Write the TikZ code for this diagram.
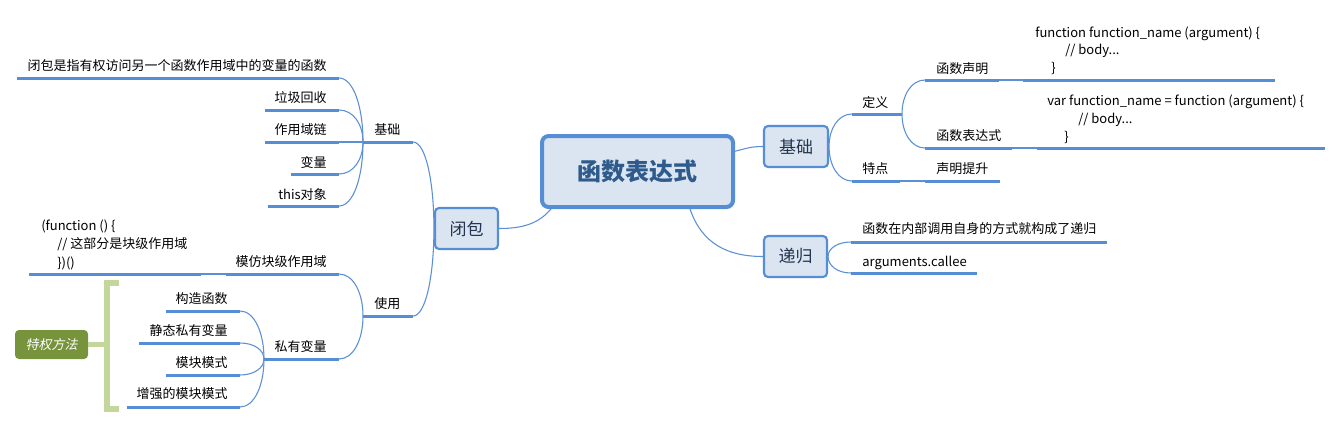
\documentclass[tikz,border=0pt]{standalone}
\usepackage{fontspec}
\setmainfont{Noto Sans CJK SC}
\newfontfamily\itfont{Noto Sans CJK SC}[FakeSlant=0.2]
\usetikzlibrary{calc}
\definecolor{ublue}{HTML}{558ED5}
\definecolor{cblue}{HTML}{5B8FD6}
\definecolor{boxfill}{HTML}{DBE5F1}
\definecolor{boxtext}{HTML}{22344F}
\definecolor{roottext}{HTML}{2E5B8B}
\definecolor{greenbr}{HTML}{C3D69B}
\definecolor{olive}{HTML}{77933C}
\newcommand\mytopic[4]{\coordinate (#1L) at (#2,#4); \coordinate (#1R) at (#3,#4); \draw[uline] (#1L) -- (#1R);}
\newcommand\mycurve[2]{\draw[conn] (#1) .. controls ($(#1)!0.55!(#1 |- #2)$) and ($(#2)!0.6!(#1 |- #2)$) .. (#2);}
\begin{document}
\begin{tikzpicture}[x=0.75pt,y=-0.75pt,
  lbl/.style={inner sep=0pt, font=\fontsize{9.75pt}{12pt}\selectfont, text=black},
  uline/.style={draw=ublue, line width=2.25pt},
  conn/.style={draw=cblue, line width=0.8pt},
  topicbox/.style={draw=ublue, fill=boxfill, line width=1.6pt, rounded corners=3pt, font=\fontsize{12.75pt}{14pt}\selectfont, text=boxtext, inner sep=0pt},
]
\useasboundingbox[fill=white] (0,0) rectangle (1343,429);

% boxes
\node[topicbox, line width=3pt, rounded corners=5pt, minimum width=143.25pt, minimum height=53.25pt, font=\fontsize{18pt}{20pt}\selectfont\bfseries, text=roottext] (root) at (637.5,171.5) {函数表达式};
\node[topicbox, minimum width=47.25pt, minimum height=30.75pt] (closure) at (466.5,228.5) {闭包};
\node[topicbox, minimum width=48pt, minimum height=30.75pt] (br) at (796,146.5) {基础};
\node[topicbox, minimum width=47.25pt, minimum height=30.75pt] (rec) at (795.5,256.5) {递归};

% left side
\mytopic{bl}{363}{413}{142}
\node[lbl, anchor=base west] (tbl) at (374,134) {基础};
\mytopic{use}{363}{413}{316}
\node[lbl, anchor=base west] (tuse) at (374,308) {使用};

\mytopic{def}{17}{339}{78}
\node[lbl, anchor=base east] (tdef) at (327,70) {闭包是指有权访问另一个函数作用域中的变量的函数};
\mytopic{gc}{265}{339}{110}
\node[lbl, anchor=base east] (tgc) at (327,102) {垃圾回收};
\mytopic{sc}{265}{339}{142}
\node[lbl, anchor=base east] (tsc) at (327,134) {作用域链};
\mytopic{var}{291}{339}{174}
\node[lbl, anchor=base east] (tvar) at (327,167) {变量};
\mytopic{this}{268}{339}{206}
\node[lbl, anchor=base east] (tthis) at (327,199) {this对象};

\mytopic{mimic}{226}{339}{274}
\node[lbl, anchor=base east] (tmimic) at (327,266) {模仿块级作用域};
\mytopic{codeC}{29}{201}{274}
\node[lbl, anchor=base west] (cc1) at (41,230) {(function () \{};
\node[lbl, anchor=base west] (cc2) at (57,248) {// 这部分是块级作用域};
\node[lbl, anchor=base west] (cc3) at (57,267) {\})()};

\mytopic{priv}{264}{339}{359}
\node[lbl, anchor=base east] (tpriv) at (327,351) {私有变量};
\mytopic{ctor}{166}{240}{311}
\node[lbl, anchor=base east] (tctor) at (228,303) {构造函数};
\mytopic{stat}{139}{240}{343}
\node[lbl, anchor=base east] (tstat) at (228,335) {静态私有变量};
\mytopic{mod}{166}{240}{375}
\node[lbl, anchor=base east] (tmod) at (228,367) {模块模式};
\mytopic{emod}{127}{240}{407}
\node[lbl, anchor=base east] (temod) at (228,398) {增强的模块模式};

% right side
\mytopic{dy}{852}{902}{114}
\node[lbl, anchor=base west] (tdy) at (862,107) {定义};
\mytopic{td}{852}{900}{181}
\node[lbl, anchor=base west] (ttd) at (862,173) {特点};
\mytopic{fd}{925}{999}{80}
\node[lbl, anchor=base west] (tfd) at (936,73) {函数声明};
\mytopic{fe}{925}{1012}{148}
\node[lbl, anchor=base west] (tfe) at (936,140) {函数表达式};
\mytopic{hoist}{925}{1000}{181}
\node[lbl, anchor=base west] (thoist) at (936,173) {声明提升};
\mytopic{codeA}{1023}{1275}{80}
\node[lbl, anchor=base west] (ca1) at (1035,37) {function function\_name (argument) \{};
\node[lbl, anchor=base west] (ca2) at (1065,54) {// body...};
\node[lbl, anchor=base west] (ca3) at (1051,72) {\}};
\mytopic{codeB}{1037}{1325}{148}
\node[lbl, anchor=base west] (cb1) at (1047,105) {var function\_name = function (argument) \{};
\node[lbl, anchor=base west] (cb2) at (1078,123) {// body...};
\node[lbl, anchor=base west] (cb3) at (1064,141) {\}};
\mytopic{recA}{851}{1107}{242}
\node[lbl, anchor=base west] (trecA) at (862,233) {函数在内部调用自身的方式就构成了递归};
\mytopic{recB}{851}{977}{273}
\node[lbl, anchor=base west] (trecB) at (862,266) {arguments.callee};

% connectors from root
\draw[conn] ($(root.north east)!0.23!(root.south east)$) .. controls +(12,-3) and +(-12,0) .. (br.west);
\draw[conn] ($(root.south west)+(11,0)$) .. controls +(-12,14) and +(25,0) .. (closure.east);
\draw[conn] ($(root.south east)+(-45,0)$) .. controls +(12,35) and +(-35,0) .. (rec.west);

% closure branches
\mycurve{closure.west}{blR}
\mycurve{closure.west}{useR}
\mycurve{blL}{defR}
\mycurve{blL}{gcR}
\draw[conn] (blL) -- (scR);
\mycurve{blL}{varR}
\mycurve{blL}{thisR}
\mycurve{useL}{mimicR}
\mycurve{useL}{privR}
\draw[conn] (mimicL) -- (codeCR);
\mycurve{privL}{ctorR}
\mycurve{privL}{statR}
\mycurve{privL}{modR}
\mycurve{privL}{emodR}

% right branches
\mycurve{br.east}{dyL}
\mycurve{br.east}{tdL}
\mycurve{dyR}{fdL}
\mycurve{dyR}{feL}
\draw[conn] (tdR) -- (hoistL);
\draw[conn] (fdR) -- (codeAL);
\draw[conn] (feR) -- (codeBL);
\mycurve{rec.east}{recAL}
\mycurve{rec.east}{recBL}

% bracket and label
\draw[greenbr, line width=4.5pt] (119,283) -- (107,283) -- (107,409) -- (119,409);
\node[fill=olive, rounded corners=3pt, minimum width=54.75pt, minimum height=21.75pt, inner sep=0pt, text=white, font=\itfont\fontsize{9.75pt}{12pt}\selectfont] (pm) at (51.5,344.5) {特权方法};
\draw[greenbr, line width=4pt] (pm.east) -- (107,344.5);
\end{tikzpicture}
\end{document}
